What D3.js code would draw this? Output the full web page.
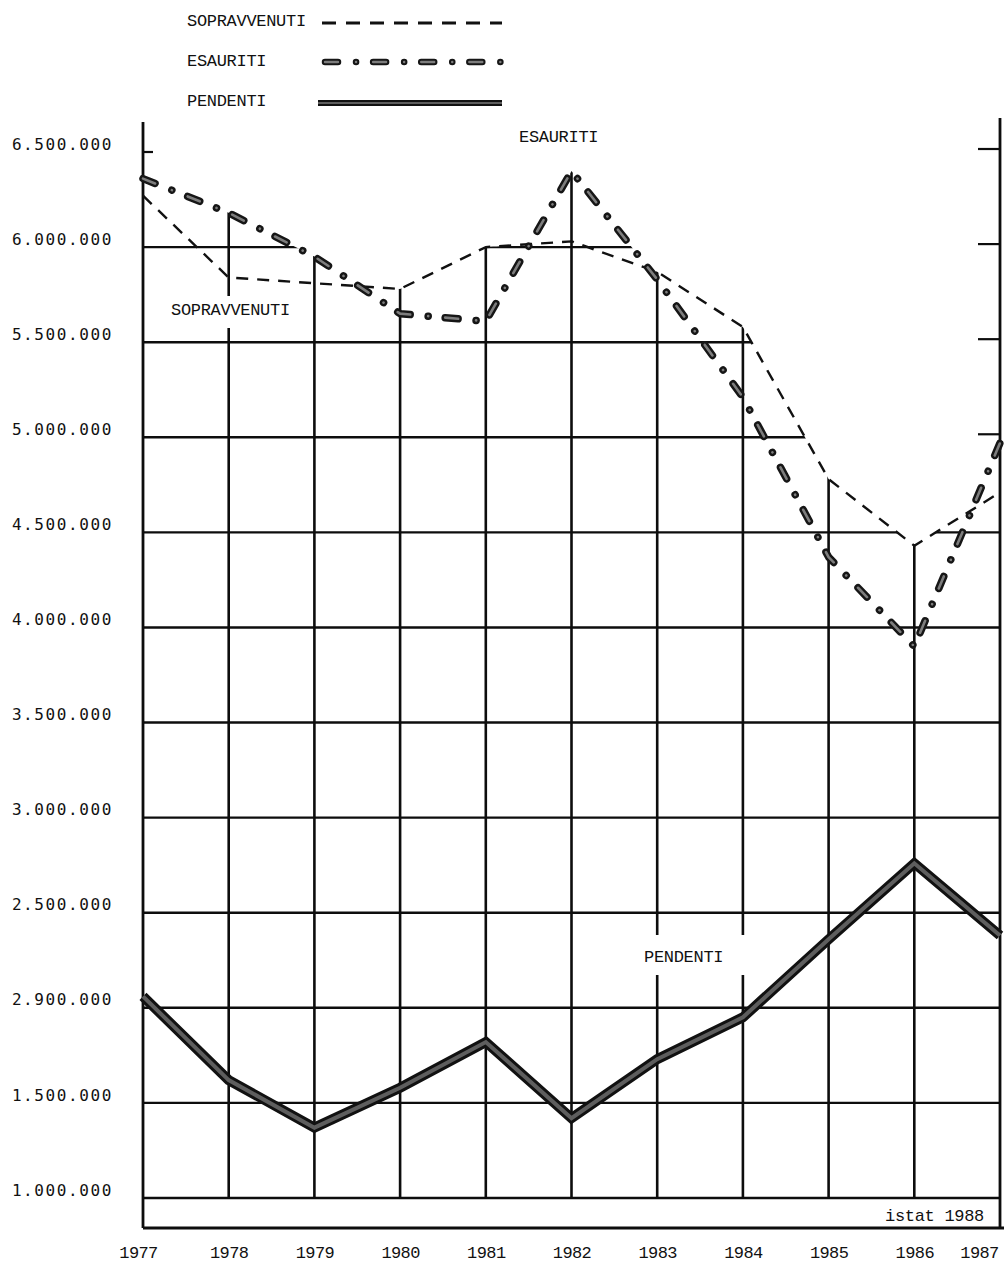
<!DOCTYPE html>
<html>
<head>
<meta charset="utf-8">
<script src="https://cdn.jsdelivr.net/npm/d3@7"></script>
<style>
  body { margin: 0; background: #fff; }
  svg { display: block; }
  .mono { font-family: "Liberation Mono", "DejaVu Sans Mono", monospace; fill: #111; }
</style>
</head>
<body>
<div id="chart"></div>
<script>
// data (istat 1988)
const years = [1977, 1978, 1979, 1980, 1981, 1982, 1983, 1984, 1985, 1986, 1987];
const sopravvenuti = [6270000, 5840000, 5810000, 5780000, 6000000, 6030000, 5870000, 5580000, 4780000, 4430000, 4710000];
const esauriti = [6360000, 6180000, 5950000, 5650000, 5610000, 6400000, 5830000, 5210000, 4370000, 3900000, 4970000];
const pendenti = [2060000, 1620000, 1370000, 1580000, 1820000, 1420000, 1730000, 1950000, 2360000, 2760000, 2380000];

const yTickValues = [1000000, 1500000, 2000000, 2500000, 3000000, 3500000, 4000000, 4500000, 5000000, 5500000, 6000000, 6500000];
// printed as on the original (2.000.000 is typed "2.900.000")
const yTickLabels = ["1.000.000", "1.500.000", "2.900.000", "2.500.000", "3.000.000", "3.500.000",
                     "4.000.000", "4.500.000", "5.000.000", "5.500.000", "6.000.000", "6.500.000"];

const legendNames = ["SOPRAVVENUTI", "ESAURITI", "PENDENTI"];

const W = 1004, H = 1266;
const bottomY = 1228;

const x = d3.scaleLinear().domain([1977, 1987]).range([143, 1000]);
const y = d3.scaleLinear().domain([1000000, 6500000]).range([1198, 152]);

const svg = d3.select("#chart").append("svg")
    .attr("width", W).attr("height", H)
    .attr("viewBox", [0, 0, W, H]);

const defs = svg.append("defs");

// upper envelope of the two top series: the grid is only drawn below it
const envPts = [];
for (let i = 0; i < years.length - 1; i++) {
    const steps = 24;
    for (let s = 0; s <= steps; s++) {
        const t = s / steps;
        const yr = years[i] + t * (years[i + 1] - years[i]);
        const a = sopravvenuti[i] + t * (sopravvenuti[i + 1] - sopravvenuti[i]);
        const b = esauriti[i] + t * (esauriti[i + 1] - esauriti[i]);
        envPts.push([x(yr), y(Math.max(a, b))]);
    }
}
const x0 = x(years[0]), x1 = x(years[years.length - 1]);
const clipPoly = [[x0 - 6, envPts[0][1]], ...envPts, [x1 + 6, envPts[envPts.length - 1][1]],
                  [x1 + 6, bottomY], [x0 - 6, bottomY]];
defs.append("clipPath").attr("id", "env")
    .append("path").attr("d", "M" + clipPoly.map(p => p.join(",")).join("L") + "Z");

// grid
const grid = svg.append("g").attr("clip-path", "url(#env)")
    .attr("stroke", "#0d0d0d").attr("stroke-width", 2.4);
grid.selectAll("line.h").data(yTickValues).join("line").attr("class", "h")
    .attr("x1", x0).attr("x2", x1)
    .attr("y1", d => y(d)).attr("y2", d => y(d));
grid.selectAll("line.v").data(years.slice(1, -1)).join("line").attr("class", "v")
    .attr("x1", d => x(d)).attr("x2", d => x(d))
    .attr("y1", y(6500000)).attr("y2", y(1000000))
    .attr("stroke-width", 2.6);

// frame
const frame = svg.append("g").attr("stroke", "#0d0d0d").attr("stroke-width", 2.8).attr("fill", "none");
frame.append("line").attr("x1", x0).attr("x2", x0).attr("y1", 122).attr("y2", bottomY);
frame.append("line").attr("x1", x1).attr("x2", x1).attr("y1", 118).attr("y2", bottomY);
frame.append("line").attr("x1", x0).attr("x2", W).attr("y1", bottomY).attr("y2", bottomY);

// short ticks where the grid line is cut off by the curves
const envStart = Math.max(sopravvenuti[0], esauriti[0]);
const envEnd = Math.max(sopravvenuti[years.length - 1], esauriti[years.length - 1]);
frame.selectAll("line.lt").data(yTickValues.filter(v => v > envStart)).join("line")
    .attr("x1", x0).attr("x2", x0 + 10).attr("y1", d => y(d)).attr("y2", d => y(d)).attr("stroke-width", 2.2);
frame.selectAll("line.rt").data(yTickValues.filter(v => v > envEnd)).join("line")
    .attr("x1", x1 - 22).attr("x2", x1).attr("y1", d => y(d) - 3).attr("y2", d => y(d) - 3).attr("stroke-width", 2.2);

// axes (labels only)
const yAxis = svg.append("g").attr("transform", "translate(113,-8)")
    .call(d3.axisLeft(y).tickValues(yTickValues).tickFormat((d, i) => yTickLabels[i]).tickSize(0).tickPadding(0));
yAxis.select(".domain").remove();
yAxis.selectAll("text")
    .attr("font-family", "'DejaVu Sans Mono', monospace").attr("font-size", 16)
    .attr("letter-spacing", 1.6).attr("fill", "#111");

const xAxis = svg.append("g").attr("transform", "translate(0,1246)")
    .call(d3.axisBottom(x).tickValues(years).tickFormat(d3.format("d")).tickSize(0).tickPadding(0));
xAxis.select(".domain").remove();
xAxis.selectAll("text")
    .attr("font-family", "'Liberation Mono', monospace").attr("font-size", 17)
    .attr("letter-spacing", -0.6).attr("fill", "#111")
    .attr("dx", d => d === 1987 ? -21 : (d === 1977 ? -5 : 0));

// series
const line = d3.line().x((d, i) => x(years[i])).y(d => y(d));

const pendG = svg.append("g").attr("fill", "none").attr("stroke-linejoin", "miter");
pendG.append("path").attr("d", line(pendenti)).attr("stroke", "#111").attr("stroke-width", 10);
pendG.append("path").attr("d", line(pendenti)).attr("stroke", "#5e5e5e").attr("stroke-width", 4);

svg.append("path").attr("d", line(sopravvenuti)).attr("fill", "none")
    .attr("stroke", "#111").attr("stroke-width", 2.4).attr("stroke-dasharray", "12 9");

const esDash = "13 18 0.1 17";
const esG = svg.append("g").attr("fill", "none").attr("stroke-linecap", "round").attr("stroke-linejoin", "round");
esG.append("path").attr("d", line(esauriti)).attr("stroke", "#161616").attr("stroke-width", 7.5)
    .attr("stroke-dasharray", esDash);
esG.append("path").attr("d", line(esauriti)).attr("stroke", "#7d7d7d").attr("stroke-width", 2.6)
    .attr("stroke-dasharray", esDash);

// in-chart labels (white boxes cut the grid like on the original)
function boxedLabel(txt, lx, ly, box) {
    const g = svg.append("g");
    if (box) g.append("rect").attr("x", box[0]).attr("y", box[1]).attr("width", box[2]).attr("height", box[3]).attr("fill", "#fff");
    g.append("text").attr("class", "mono").attr("x", lx).attr("y", ly)
        .attr("font-size", 17).attr("letter-spacing", -0.3).attr("dominant-baseline", "central").text(txt);
}
boxedLabel("SOPRAVVENUTI", 171, 310, [166, 296, 128, 32]);
boxedLabel("ESAURITI", 519, 137, null);
boxedLabel("PENDENTI", 644, 957, [640, 935, 112, 40]);
boxedLabel("istat 1988", 885, 1216, null);

// legend
const legend = svg.append("g");
const legY = [21, 61, 101];
legend.selectAll("text").data(legendNames).join("text").attr("class", "mono")
    .attr("x", 187).attr("y", (d, i) => legY[i]).attr("font-size", 17).attr("letter-spacing", -0.3)
    .attr("dominant-baseline", "central").text(d => d);

const lx0 = 322, lx1 = 502;
legend.append("line").attr("x1", lx0).attr("x2", lx1).attr("y1", legY[0] + 2).attr("y2", legY[0] + 2)
    .attr("stroke", "#111").attr("stroke-width", 3).attr("stroke-dasharray", "14 10");
[["#161616", 6.5], ["#7d7d7d", 2.4]].forEach(([c, w]) => {
    legend.append("line").attr("x1", lx0 + 3).attr("x2", lx1).attr("y1", legY[1] + 1).attr("y2", legY[1] + 1)
        .attr("stroke", c).attr("stroke-width", w).attr("stroke-linecap", "round").attr("stroke-dasharray", esDash);
});
legend.append("line").attr("x1", 318).attr("x2", lx1).attr("y1", legY[2] + 2).attr("y2", legY[2] + 2)
    .attr("stroke", "#111").attr("stroke-width", 6);
legend.append("line").attr("x1", 318).attr("x2", lx1).attr("y1", legY[2] + 2).attr("y2", legY[2] + 2)
    .attr("stroke", "#5e5e5e").attr("stroke-width", 2);
</script>
</body>
</html>
